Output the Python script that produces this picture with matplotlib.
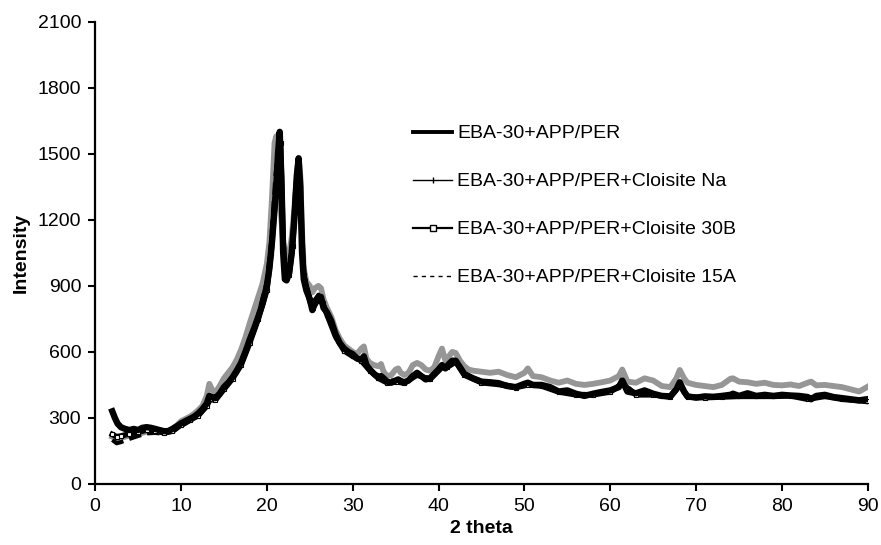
import matplotlib
matplotlib.use('Agg')
import matplotlib.pyplot as plt
from matplotlib.lines import Line2D

plt.rcParams['font.family'] = ['Liberation Sans', 'DejaVu Sans']

# ---- data (2 theta in degrees, intensity in counts) ----
theta = [2.0, 2.3, 2.6, 3.0, 3.5, 4.0, 4.5, 5.0, 5.5, 6.0, 6.5, 7.0, 7.5, 8.0, 8.5,
         9.0, 9.5, 10.0, 10.5, 11.0, 11.5, 12.0, 12.5, 13.0, 13.3, 13.6, 14.0, 14.5,
         15.0, 15.5, 16.0, 16.5, 17.0, 17.5, 18.0, 18.5, 19.0, 19.5, 20.0, 20.3, 20.6,
         20.9, 21.1, 21.3, 21.5, 21.7, 21.9, 22.1, 22.3, 22.6, 22.9, 23.2, 23.5, 23.7,
         23.9, 24.1, 24.3, 24.6, 25.0, 25.3, 25.6, 26.0, 26.3, 26.6, 27.0, 27.5, 28.0,
         28.5, 29.0, 29.5, 30.0, 30.5, 31.0, 31.3, 31.6, 32.0, 32.5, 33.0, 33.3, 33.6,
         34.0, 34.5, 35.0, 35.3, 35.6, 36.0, 36.5, 37.0, 37.5, 38.0, 38.5, 39.0, 39.5,
         40.0, 40.4, 40.8, 41.2, 41.6, 42.0, 42.5, 43.0, 43.5, 44.0, 45.0, 46.0, 47.0,
         48.0, 49.0, 50.0, 50.4, 51.0, 52.0, 53.0, 54.0, 55.0, 56.0, 57.0, 58.0, 59.0,
         60.0, 61.0, 61.4, 62.0, 63.0, 64.0, 65.0, 66.0, 67.0, 67.7, 68.1, 68.6, 69.0,
         70.0, 71.0, 72.0, 73.0, 74.0, 74.3, 75.0, 76.0, 77.0, 78.0, 79.0, 80.0, 81.0,
         82.0, 83.0, 83.4, 84.0, 85.0, 86.0, 87.0, 88.0, 89.0, 89.9]

app_per = [330, 300, 275, 258, 250, 245, 250, 245, 255, 258, 255, 250, 245, 240, 240,
           250, 262, 275, 285, 295, 305, 320, 340, 365, 400, 395, 390, 410,
           440, 460, 485, 515, 550, 600, 655, 705, 760, 820, 900, 980, 1100,
           1250, 1350, 1500, 1600, 1380, 1050, 930, 925, 960, 1050, 1200, 1400, 1480,
           1350, 1050, 930, 880, 840, 790, 830, 850, 850, 800, 780, 740, 680,
           640, 615, 600, 590, 570, 565, 580, 540, 520, 500, 485, 490, 480,
           465, 460, 470, 475, 468, 462, 470, 490, 505, 490, 475, 480, 500,
           520, 540, 525, 545, 560, 560, 530, 500, 490, 480, 465, 462, 458,
           445, 440, 455, 460, 450, 450, 440, 420, 425, 410, 400, 410, 418,
           425, 440, 470, 420, 412, 425, 410, 400, 398, 430, 462, 420, 398,
           392, 398, 396, 400, 405, 410, 400, 412, 400, 405, 400, 405, 402,
           400, 395, 385, 400, 405, 395, 390, 385, 380, 385]

cloisite_na = [215, 210, 205, 210, 215, 220, 225, 228, 232, 238, 240, 238, 236, 235, 240,
               250, 265, 285, 295, 305, 318, 335, 355, 400, 455, 430, 415, 445,
               480, 505, 530, 565, 610, 665, 730, 790, 850, 910, 1000, 1100, 1300,
               1550, 1580, 1450, 1300, 1200, 1100, 1050, 1030, 1050, 1120, 1250, 1420, 1470,
               1400, 1150, 980, 920, 900, 870, 890, 900, 890, 840, 800, 760, 700,
               660, 630, 615, 600, 590, 615, 625, 570, 550, 540, 535, 545, 510,
               490, 495, 520, 525, 505, 495, 505, 540, 550, 540, 520, 515, 530,
               580, 615, 560, 580, 600, 595, 560, 535, 520, 515, 510, 505, 510,
               495, 485, 505, 525, 490, 485, 470, 460, 470, 455, 450, 455, 462,
               470, 490, 520, 465, 460, 480, 470, 445, 440, 480, 518, 480, 460,
               450, 445, 440, 450, 478, 480, 465, 462, 455, 460, 450, 448, 452,
               445, 460, 465, 448, 450, 445, 440, 430, 420, 440]

theta_b = [2.0, 2.5, 3.0, 4.0, 5.0, 6.0, 7.0, 8.0, 9.0, 10.0, 11.0, 12.0, 13.0, 13.4,
           14.0, 15.0, 16.0, 17.0, 18.0, 19.0, 20.0, 20.5, 21.0, 21.3, 21.6, 21.9, 22.2,
           22.6, 23.0, 23.4, 23.7, 24.0, 24.3, 25.0, 25.4, 26.0, 26.5, 27.0, 28.0, 29.0,
           30.0, 31.0, 32.0, 33.0, 34.0, 35.0, 36.0, 37.5, 39.0, 40.4, 41.0, 42.0, 43.0,
           45.0, 47.0, 49.0, 50.4, 52.0, 54.0, 56.0, 58.0, 60.0, 61.4, 63.0, 65.0, 67.0,
           68.1, 69.0, 71.0, 73.0, 75.0, 77.0, 79.0, 81.0, 83.0, 85.0, 87.0, 89.9]

cloisite_30b = [225, 215, 218, 228, 235, 245, 242, 232, 240, 268, 290, 310, 355, 385,
                380, 430, 478, 540, 640, 750, 880, 1050, 1300, 1450, 1550, 1100, 940,
                950, 1080, 1350, 1450, 1200, 950, 830, 800, 840, 820, 770, 670, 605,
                580, 560, 515, 480, 460, 465, 458, 495, 475, 530, 530, 555, 495,
                460, 452, 438, 450, 445, 418, 405, 405, 418, 455, 405, 405, 395,
                450, 395, 392, 395, 398, 398, 398, 400, 385, 398, 385, 375]

cloisite_15a = [200, 185, 190, 205, 218, 230, 232, 228, 238, 262, 285, 308, 350, 390,
                385, 435, 488, 555, 660, 770, 920, 1100, 1400, 1520, 1450, 1080, 960,
                980, 1100, 1380, 1430, 1150, 960, 850, 810, 860, 830, 780, 680, 610,
                585, 570, 520, 485, 468, 472, 465, 500, 480, 535, 535, 560, 500,
                468, 460, 442, 455, 448, 422, 410, 408, 422, 460, 410, 410, 400,
                455, 398, 395, 400, 402, 402, 402, 402, 392, 402, 390, 380]

labels = ['EBA-30+APP/PER',
          'EBA-30+APP/PER+Cloisite Na',
          'EBA-30+APP/PER+Cloisite 30B',
          'EBA-30+APP/PER+Cloisite 15A']

x_ticks = list(range(0, 91, 10))
y_ticks = list(range(0, 2101, 300))

fig = plt.figure(figsize=(8.81, 5.45), dpi=100)
ax = fig.add_axes([0.108, 0.112, 0.877, 0.848])

# grey trace sits underneath the black ones
ax.plot(theta, cloisite_na, color='#969696', lw=4.2, solid_joinstyle='round')
ax.plot(theta_b, cloisite_15a, color='black', lw=3.0, ls=(0, (3, 1.5)))
ax.plot(theta_b, cloisite_30b, color='black', lw=4.0, marker='s', ms=3,
        mfc='white', mec='black', mew=0.8)
ax.plot(theta, app_per, color='black', lw=4.6, solid_joinstyle='round')

ax.set_xlim(0, 90)
ax.set_ylim(0, 2100)
ax.set_xticks(x_ticks)
ax.set_yticks(y_ticks)
ax.tick_params(direction='out', length=5, width=1.5, labelsize=14, pad=5, colors='black')
for s in ['top', 'right']:
    ax.spines[s].set_visible(False)
for s in ['left', 'bottom']:
    ax.spines[s].set_linewidth(1.6)

ax.set_xlabel('2 theta', fontsize=14, weight='bold', labelpad=4)
ax.set_ylabel('Intensity', fontsize=14, weight='bold', labelpad=6)

# legend drawn the way the original key shows it
handles = [
    Line2D([], [], color='black', lw=2.8),
    Line2D([], [], color='black', lw=1.0, marker='|', ms=4, mew=1.0),
    Line2D([], [], color='black', lw=1.6, marker='s', ms=4, mfc='white', mew=1.0),
    Line2D([], [], color='black', lw=1.0, ls=(0, (3, 3))),
]
ax.legend(handles, labels, loc='upper left', bbox_to_anchor=(0.412, 0.777),
          frameon=False, fontsize=14, handlelength=2.0, handletextpad=0.25,
          labelspacing=1.56, borderpad=0, borderaxespad=0)

fig.savefig('out.png', dpi=100)
